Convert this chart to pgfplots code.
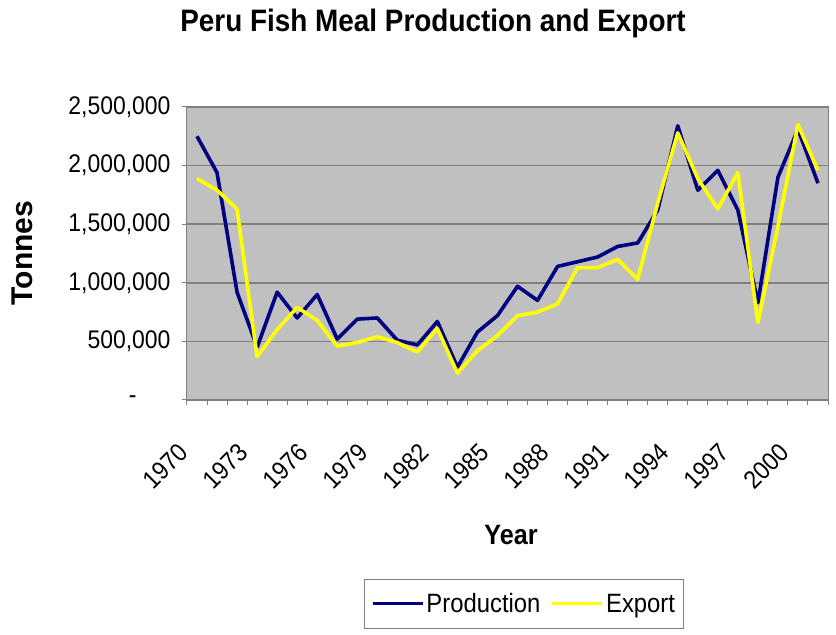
\documentclass[border=0pt]{standalone}
\usepackage{pgfplots}
\usepackage{pgfplotstable}
\pgfplotsset{compat=1.18}
\usepackage{fontspec}
\setmainfont{Liberation Sans}[FakeStretch=0.9]
\newfontfamily\plainfont{Liberation Sans}
\definecolor{plotbg}{RGB}{192,192,192}
\definecolor{gridc}{RGB}{128,128,128}
\definecolor{prodc}{RGB}{0,0,128}
\definecolor{expc}{RGB}{255,255,0}
\pgfplotstableread{
year prod exp
1970 2250000 1890000
1971 1940000 1790000
1972 920000 1630000
1973 450000 370000
1974 920000 600000
1975 700000 790000
1976 900000 680000
1977 520000 460000
1978 690000 490000
1979 700000 540000
1980 510000 490000
1981 470000 410000
1982 670000 610000
1983 280000 230000
1984 580000 420000
1985 720000 550000
1986 970000 720000
1987 850000 750000
1988 1140000 820000
1989 1180000 1130000
1990 1220000 1130000
1991 1310000 1200000
1992 1340000 1030000
1993 1620000 1680000
1994 2340000 2280000
1995 1790000 1890000
1996 1960000 1630000
1997 1620000 1940000
1998 830000 660000
1999 1900000 1480000
2000 2310000 2350000
2001 1850000 1960000
}\fishdata
\begin{document}
\begin{tikzpicture}
\useasboundingbox (0,0) rectangle (836pt,635pt);
\node[font=\fontsize{31}{36}\selectfont\bfseries] at (433pt,612pt) {Peru Fish Meal Production and Export};
\begin{axis}[
  at={(187pt,235pt)}, anchor=south west,
  width=641pt, height=293pt, scale only axis,
  xmin=1969.5, xmax=2001.5, ymin=0, ymax=2500000,
  axis background/.style={fill=plotbg},
  axis line style={draw=gridc, line width=1pt},
  scaled y ticks=false,
  ytick={0,500000,1000000,1500000,2000000,2500000},
  yticklabels={{-\hspace*{34pt}},{500,000},{1,000,000},{1,500,000},{2,000,000},{2,500,000}},
  ymajorgrids, grid style={draw=gridc, line width=1.6pt},
  xtick={1969.5,1970.5,...,2001.5}, xticklabels={},
  extra x ticks={1970,1973,1976,1979,1982,1985,1988,1991,1994,1997,2000},
  extra x tick labels={1970,1973,1976,1979,1982,1985,1988,1991,1994,1997,2000},
  extra x tick style={major tick length=0pt, grid=none},
  tick align=outside, major tick length=5pt,
  xtick pos=bottom, ytick pos=left,
  tick style={draw=gridc, line width=1pt},
  tick label style={font=\fontsize{25.5}{30}\selectfont},
  /pgf/number format/assume math mode=true,
  yticklabel style={xshift=-8pt},
  xticklabel style={xshift=-11pt, yshift=-46pt, rotate=45, anchor=east},
  xlabel={Year},
  every axis x label/.style={at={(axis description cs:0.5055,-0.461)}, anchor=center, font=\fontsize{28}{32}\selectfont\bfseries},
  ylabel={Tonnes},
  every axis y label/.style={at={(axis description cs:-0.2574,0.502)}, rotate=90, anchor=center, font=\plainfont\bfseries\fontsize{30}{34}\selectfont},
  legend style={at={(axis description cs:0.5257,-0.695)}, anchor=center, legend columns=2, draw=gridc, line width=0.8pt, inner ysep=12pt, inner xsep=6pt, font=\fontsize{26.5}{30}\selectfont, /tikz/every even column/.append style={column sep=8pt}},
  legend image code/.code={\draw[#1] (0pt,0pt) -- (50pt,0pt);},
]
\addplot[prodc, line width=3.6pt, line join=round] table[x=year,y=prod]{\fishdata};
\addlegendentry{Production}
\addplot[expc, line width=3.6pt, line join=round] table[x=year,y=exp]{\fishdata};
\addlegendentry{Export}
\end{axis}
\end{tikzpicture}
\end{document}
